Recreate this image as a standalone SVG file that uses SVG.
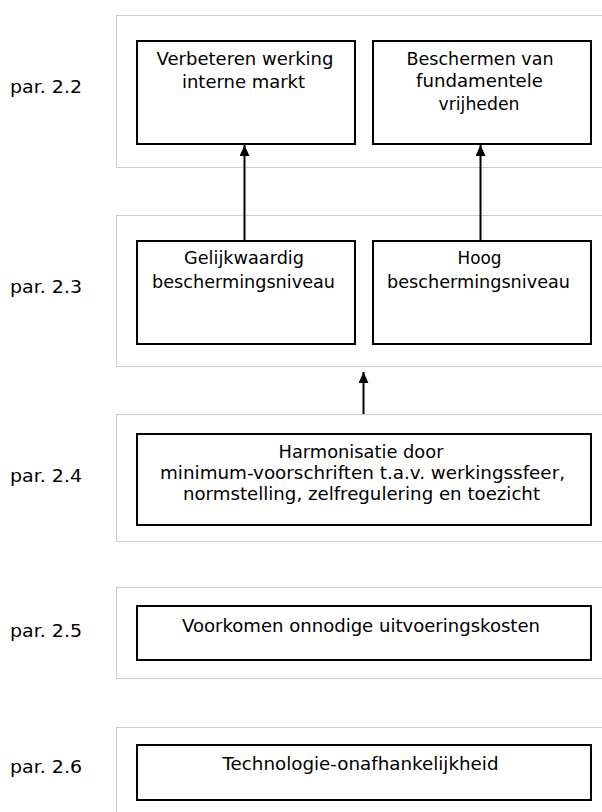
<svg xmlns="http://www.w3.org/2000/svg" width="602" height="812" viewBox="0 0 602 812">
<style>
.grp{fill:none;stroke:#999;stroke-width:1;stroke-dasharray:1 1}
.node{fill:#fff;stroke:#000;stroke-width:2}
.t{font-family:"DejaVu Sans",Verdana,sans-serif;font-size:17px;fill:#000;text-anchor:middle}
.lbl{font-family:"DejaVu Sans",Verdana,sans-serif;font-size:17px;fill:#000}
.con{stroke:#000;stroke-width:2;fill:none}
</style>
<defs>
<marker id="ah" markerWidth="12" markerHeight="10" refX="11" refY="5" orient="auto" markerUnits="userSpaceOnUse">
<path d="M0,0 L11,5 L0,10 Z" fill="#000"/>
</marker>
</defs>
<rect x="0" y="0" width="602" height="812" fill="#fff"/>
<g id="groups">
<rect class="grp" x="116.5" y="15.5" width="500" height="152"/>
<rect class="grp" x="116.5" y="215.5" width="500" height="151"/>
<rect class="grp" x="116.5" y="414.5" width="500" height="127"/>
<rect class="grp" x="116.5" y="587.5" width="500" height="91"/>
<rect class="grp" x="116.5" y="727.5" width="500" height="100"/>
</g>
<g id="labels">
<text class="lbl" x="10" y="93" textLength="72" lengthAdjust="spacingAndGlyphs">par. 2.2</text>
<text class="lbl" x="10" y="293" textLength="72" lengthAdjust="spacingAndGlyphs">par. 2.3</text>
<text class="lbl" x="10" y="482" textLength="72" lengthAdjust="spacingAndGlyphs">par. 2.4</text>
<text class="lbl" x="10" y="637" textLength="72" lengthAdjust="spacingAndGlyphs">par. 2.5</text>
<text class="lbl" x="10" y="773" textLength="72" lengthAdjust="spacingAndGlyphs">par. 2.6</text>
</g>
<g id="connectors">
<line class="con" x1="244.5" y1="241" x2="244.5" y2="145" marker-end="url(#ah)"/>
<line class="con" x1="480.5" y1="241" x2="480.5" y2="145" marker-end="url(#ah)"/>
<line class="con" x1="363.5" y1="414" x2="363.5" y2="372" marker-end="url(#ah)"/>
</g>
<g id="node-verbeteren">
<rect class="node" x="137" y="41" width="218" height="103"/>
<text class="t" x="245" y="65" textLength="177" lengthAdjust="spacingAndGlyphs">Verbeteren werking</text>
<text class="t" x="243.5" y="88" textLength="123" lengthAdjust="spacingAndGlyphs">interne markt</text>
</g>
<g id="node-beschermen">
<rect class="node" x="373" y="41" width="218" height="103"/>
<text class="t" x="480" y="65" textLength="147" lengthAdjust="spacingAndGlyphs">Beschermen van</text>
<text class="t" x="479.5" y="87" textLength="127" lengthAdjust="spacingAndGlyphs">fundamentele</text>
<text class="t" x="479" y="110" textLength="81" lengthAdjust="spacingAndGlyphs">vrijheden</text>
</g>
<g id="node-gelijkwaardig">
<rect class="node" x="137" y="241" width="218" height="103"/>
<text class="t" x="244" y="264" textLength="120" lengthAdjust="spacingAndGlyphs">Gelijkwaardig</text>
<text class="t" x="243.5" y="288" textLength="183" lengthAdjust="spacingAndGlyphs">beschermingsniveau</text>
</g>
<g id="node-hoog">
<rect class="node" x="373" y="241" width="218" height="103"/>
<text class="t" x="479.5" y="264" textLength="44" lengthAdjust="spacingAndGlyphs">Hoog</text>
<text class="t" x="478.5" y="288" textLength="183" lengthAdjust="spacingAndGlyphs">beschermingsniveau</text>
</g>
<g id="node-harmonisatie">
<rect class="node" x="137" y="434" width="454" height="91"/>
<text class="t" x="361" y="457.5" textLength="165" lengthAdjust="spacingAndGlyphs">Harmonisatie door</text>
<text class="t" x="362.5" y="479" textLength="405" lengthAdjust="spacingAndGlyphs">minimum-voorschriften t.a.v. werkingssfeer,</text>
<text class="t" x="361.5" y="499.5" textLength="357" lengthAdjust="spacingAndGlyphs">normstelling, zelfregulering en toezicht</text>
</g>
<g id="node-voorkomen">
<rect class="node" x="137" y="606" width="454" height="54"/>
<text class="t" x="361" y="631.5" textLength="358" lengthAdjust="spacingAndGlyphs">Voorkomen onnodige uitvoeringskosten</text>
</g>
<g id="node-technologie">
<rect class="node" x="137" y="745" width="454" height="55"/>
<text class="t" x="360.5" y="770" textLength="276" lengthAdjust="spacingAndGlyphs">Technologie-onafhankelijkheid</text>
</g>
</svg>
